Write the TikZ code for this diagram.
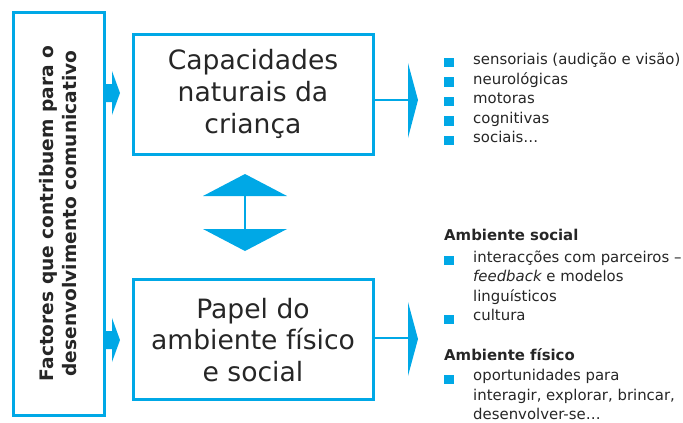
\documentclass[tikz,border=0pt]{standalone}
\usepackage{fontspec}
\setmainfont{DejaVu Sans}
\definecolor{cy}{HTML}{00A8E6}
\definecolor{tx}{HTML}{262626}
\begin{document}
\begin{tikzpicture}[x=1pt,y=-1pt,
  box/.style={draw=cy,line width=3pt,inner sep=0pt},
  bigtxt/.style={text=tx,align=center,font=\fontsize{26.6}{31.7}\selectfont},
  lst/.style={text=tx,anchor=base west,inner sep=0pt,font=\fontsize{14.9}{19}\selectfont},
  hdr/.style={lst,font=\fontsize{14.9}{19}\selectfont\bfseries},
  bul/.style={fill=cy,minimum size=9.5pt,inner sep=0pt},
  conn/.style={draw=cy,line width=2pt},
  tip/.style={fill=cy}]
\useasboundingbox (0,0) rectangle (683,423);
% left box
\node[box,minimum width=91pt,minimum height=403pt] (left) at (58.5,213.5) {};
\node[rotate=90,text=tx,align=center,font=\fontsize{18.6}{23}\selectfont\bfseries] (lefttxt) at (58.5,213.5)
  {Factores que contribuem para o\\desenvolvimento comunicativo};
% boxes
\node[box,minimum width=240pt,minimum height=120pt] (top) at (253,94) {};
\node[bigtxt] (toptxt) at (253,94) {Capacidades\\naturais da\\criança};
\node[box,minimum width=240pt,minimum height=120pt] (bot) at (253,339) {};
\node[bigtxt] (bottxt) at (253,340) {Papel do\\ambiente físico\\e social};
% left arrows
\coordinate (la) at (120,93);
\coordinate (lb) at (120,340);
\fill[cy] (left.east |- 0,84) -- (112,84) -- (112,71) -- (la) -- (112,115) -- (112,102) -- (left.east |- 0,102) -- cycle;
\fill[cy] (left.east |- 0,331) -- (112,331) -- (112,318) -- (lb) -- (112,362) -- (112,349) -- (left.east |- 0,349) -- cycle;
% right arrows
\coordinate (ra) at (408,100);
\coordinate (rb) at (408,338);
\draw[conn] (top.east |- ra) -- (ra);
\fill[tip] (408,63) -- (418,100) -- (408,138) -- cycle;
\draw[conn] (bot.east |- rb) -- (rb);
\fill[tip] (408,302) -- (418,339) -- (408,376) -- cycle;
% double arrow
\coordinate (da) at (245,196);
\coordinate (db) at (245,229);
\fill[tip] (203,196) -- (245,174) -- (287,196) -- cycle;
\fill[tip] (203,229) -- (245,251) -- (287,229) -- cycle;
\draw[conn] (da) -- (db);
% top list
\foreach \i/\t in {0/{sensoriais (audição e visão)},1/neurológicas,2/motoras,3/cognitivas,4/sociais…}{
  \node[bul] (b\i) at (449,{62.5+19.5*\i}) {};
  \node[lst] (l\i) at (473,{64.5+19.5*\i}) {\t};
}
% bottom list
\node[hdr] (h1) at (444,240.5) {Ambiente social};
\node[bul] (c1) at (449,260.5) {};
\node[lst] (m1) at (473,262) {interacções com parceiros –};
\node[lst] (m2) at (473,281.5) {\itshape feedback\upshape{} e modelos};
\node[lst] (m3) at (473,301) {linguísticos};
\node[bul] (c2) at (449,319.5) {};
\node[lst] (m4) at (473,320.5) {cultura};
\node[hdr] (h2) at (444,360.5) {Ambiente físico};
\node[bul] (c3) at (449,379.5) {};
\node[lst] (m5) at (473,380.5) {oportunidades para};
\node[lst] (m6) at (473,400) {interagir, explorar, brincar,};
\node[lst] (m7) at (473,419.5) {desenvolver-se…};
\end{tikzpicture}
\end{document}
